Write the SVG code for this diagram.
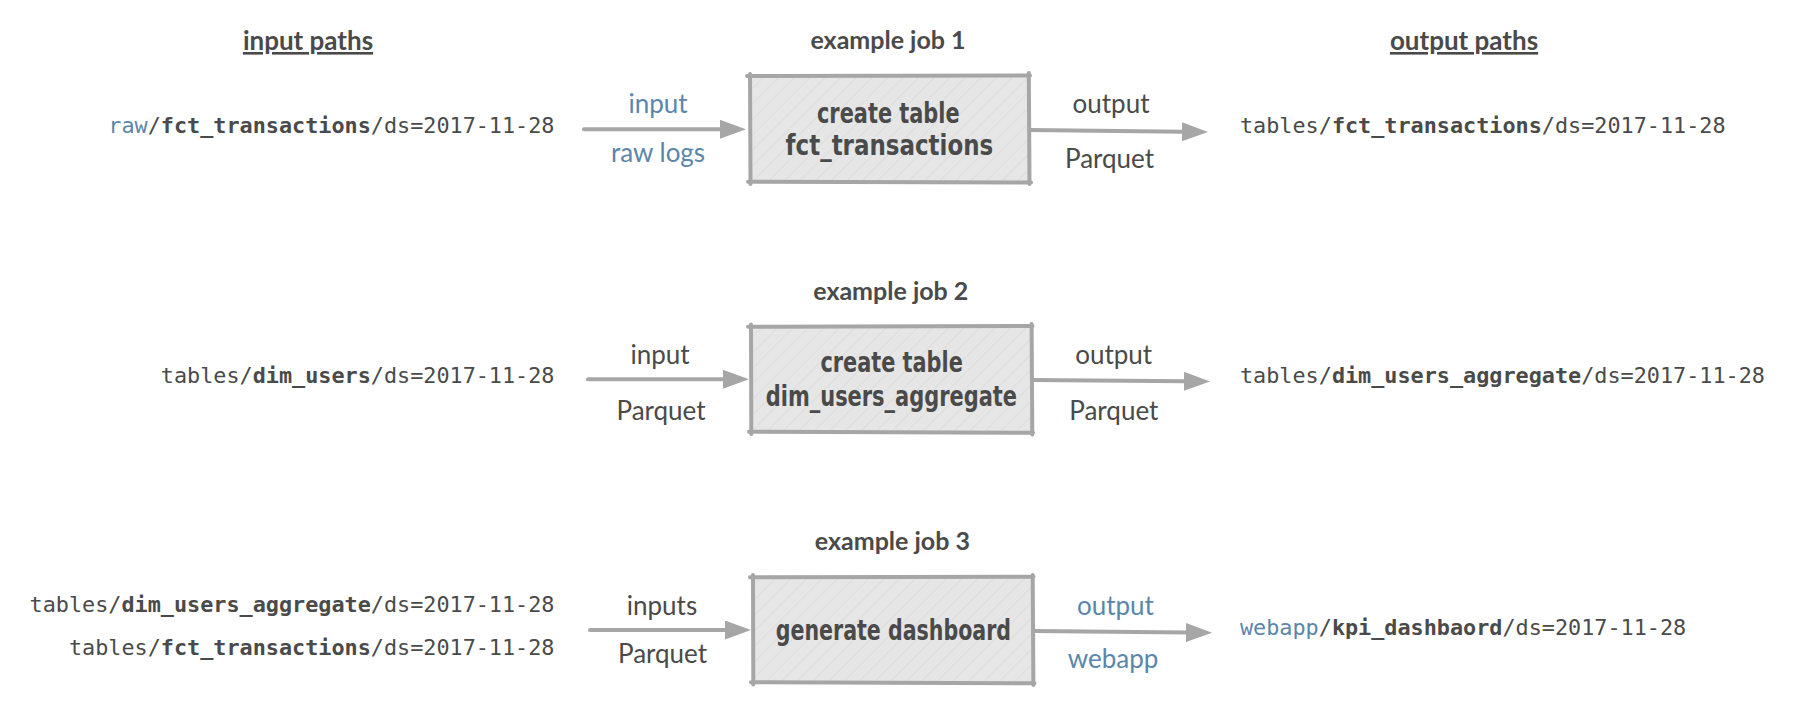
<svg xmlns="http://www.w3.org/2000/svg" width="1816" height="722" viewBox="0 0 1816 722">
<style>
.hdr{font-family:Lato,"Open Sans",sans-serif;font-weight:700;font-size:26px;fill:#4a4a4a;text-anchor:middle;text-decoration:underline}
.job{font-family:Lato,"Open Sans",sans-serif;font-weight:700;font-size:25px;fill:#4a4a4a;text-anchor:middle}
.lbl{font-family:Lato,"Open Sans",sans-serif;font-size:26px;fill:#4a4a4a;text-anchor:middle}
.blue{fill:#5b86ab}
.path{font-family:"DejaVu Sans Mono","Liberation Mono",monospace;font-size:21.8px;fill:#4a4a4a}
.b{font-weight:700}
.boxt{font-family:"DejaVu Sans","Liberation Sans",sans-serif;font-weight:700;font-stretch:condensed;font-size:28px;fill:#4a4a4a;text-anchor:middle}
.frame{stroke:#a6a6a6;stroke-width:4;stroke-linecap:round;fill:none}
.fill{fill:url(#hatch)}
.conn{stroke:#a6a6a6;stroke-width:4;stroke-linecap:round;fill:none;marker-end:url(#ah)}
</style>
<defs>
<pattern id="hatch" patternUnits="userSpaceOnUse" width="11" height="11" patternTransform="rotate(45)">
<rect width="11" height="11" fill="#e6e6e6"/>
<line x1="0" y1="0" x2="0" y2="11" stroke="#dadada" stroke-width="1.5"/>
</pattern>
<marker id="ah" markerUnits="userSpaceOnUse" markerWidth="27" markerHeight="20" refX="1" refY="9.5" orient="auto">
<path d="M0,0 L26,9.5 L0,19 z" fill="#a6a6a6"/>
</marker>
</defs>
<rect width="1816" height="722" fill="#ffffff"/>

<g id="headers">
<text class="hdr" x="308" y="50">input paths</text>
<text class="hdr" x="1464" y="50">output paths</text>
</g>

<g id="input-paths">
<text class="path" x="554.5" y="133.3" text-anchor="end"><tspan class="blue">raw</tspan>/<tspan class="b">fct_transactions</tspan>/ds=2017-11-28</text>
<text class="path" x="554.5" y="383.3" text-anchor="end">tables/<tspan class="b">dim_users</tspan>/ds=2017-11-28</text>
<text class="path" x="554.5" y="611.7" text-anchor="end">tables/<tspan class="b">dim_users_aggregate</tspan>/ds=2017-11-28</text>
<text class="path" x="554.5" y="655" text-anchor="end">tables/<tspan class="b">fct_transactions</tspan>/ds=2017-11-28</text>
</g>

<g id="output-paths">
<text class="path" x="1240" y="133.3">tables/<tspan class="b">fct_transactions</tspan>/ds=2017-11-28</text>
<text class="path" x="1240" y="383.3">tables/<tspan class="b">dim_users_aggregate</tspan>/ds=2017-11-28</text>
<text class="path" x="1240" y="635"><tspan class="blue">webapp</tspan>/<tspan class="b">kpi_dashbaord</tspan>/ds=2017-11-28</text>
</g>

<g id="connectors">
<path class="conn" d="M584,129.3 L721,129.3"/>
<path class="conn" d="M1029,130 L1183,131.8"/>
<path class="conn" d="M588,379.3 L724,379.3"/>
<path class="conn" d="M1032,380 L1185,381.3"/>
<path class="conn" d="M590,630 L726,630"/>
<path class="conn" d="M1033,631 L1187,632.6"/>
</g>

<g id="job1">
<text class="job" x="888" y="49.3">example job 1</text>
<rect class="fill" x="750" y="76" width="279" height="105.7"/>
<path class="frame" d="M747,76 L1030,75.5 M750,74 L750.5,184 M748,181.7 L1031,182.5 M1028.8,73 L1029.5,184"/>
<text class="boxt" x="888.3" y="123.3" textLength="142.6" lengthAdjust="spacingAndGlyphs">create table</text>
<text class="boxt" x="889.4" y="155" textLength="207.6" lengthAdjust="spacingAndGlyphs">fct_transactions</text>
<text class="lbl blue" x="658" y="113.3">input</text>
<text class="lbl blue" x="658" y="162.3">raw logs</text>
<text class="lbl" x="1111" y="113.3">output</text>
<text class="lbl" x="1109.5" y="168">Parquet</text>
</g>

<g id="job2">
<text class="job" x="890.8" y="300">example job 2</text>
<rect class="fill" x="751" y="326.7" width="280.6" height="105"/>
<path class="frame" d="M748,326.7 L1032.5,326 M751,324.5 L751.3,434 M749,431.7 L1033,432.7 M1031.6,324 L1032.3,434.5"/>
<text class="boxt" x="891.6" y="371.7" textLength="142.4" lengthAdjust="spacingAndGlyphs">create table</text>
<text class="boxt" x="891.4" y="405.7" textLength="251.2" lengthAdjust="spacingAndGlyphs">dim_users_aggregate</text>
<text class="lbl" x="660" y="364">input</text>
<text class="lbl" x="661" y="420">Parquet</text>
<text class="lbl" x="1113.7" y="364">output</text>
<text class="lbl" x="1113.8" y="420">Parquet</text>
</g>

<g id="job3">
<text class="job" x="892.4" y="550">example job 3</text>
<rect class="fill" x="753" y="577.3" width="279.7" height="105"/>
<path class="frame" d="M750,577.3 L1033.5,576.6 M753,575 L753.3,684.5 M751,682.3 L1034.5,683.3 M1032.7,575 L1033.4,685"/>
<text class="boxt" x="893.4" y="640" textLength="235.3" lengthAdjust="spacingAndGlyphs">generate dashboard</text>
<text class="lbl" x="662" y="615">inputs</text>
<text class="lbl" x="662.5" y="663.3">Parquet</text>
<text class="lbl blue" x="1115.4" y="615">output</text>
<text class="lbl blue" x="1113" y="668">webapp</text>
</g>
</svg>
